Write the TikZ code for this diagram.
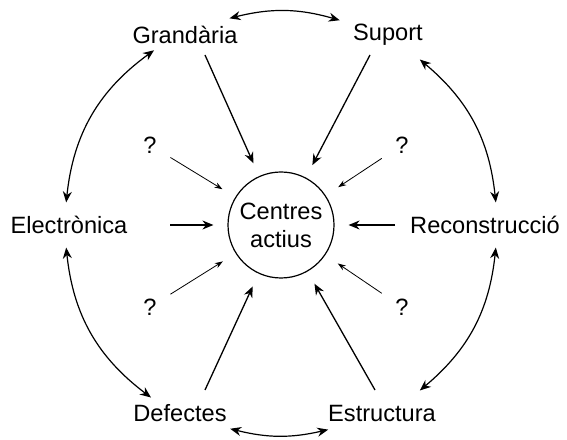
\documentclass[tikz,border=0pt]{standalone}
\usepackage{fontspec}
\setmainfont{Liberation Sans}
\usetikzlibrary{arrows.meta, calc}

\begin{document}
\begin{tikzpicture}[
  x=0.5pt, y=0.5pt,
  every node/.style={font=\fontsize{11.8}{14}\selectfont},
  centre/.style={circle, draw, line width=0.6pt, minimum size=53pt, align=center, inner sep=0pt},
  bigarrow/.style={line width=0.65pt, -{Stealth[length=5.5pt, width=4.5pt]}, shorten >=7pt},
  smallarrow/.style={line width=0.4pt, -{Stealth[length=4pt, width=2.8pt]}, shorten >=7.5pt, shorten <=4pt},
  linkarrow/.style={line width=0.6pt, {Stealth[length=5.5pt, width=4.5pt]}-{Stealth[length=5.5pt, width=4.5pt]}}
]
  \useasboundingbox (0,0) rectangle (567,439);

  \node[centre] (c) at (281,214) {Centres\\actius};

  \node (gr) at (185,404) {Grandària};
  \node (su) at (388,404) {Suport};
  \node (el) at (69,214)  {Electrònica};
  \node (re) at (485,214) {Reconstrucció};
  \node (de) at (180,26)  {Defectes};
  \node (es) at (382,26)  {Estructura};

  \node (q1) at (150,294) {?};
  \node (q2) at (402,294) {?};
  \node (q3) at (150,132) {?};
  \node (q4) at (402,132) {?};

  % start points of the straight arrows
  \coordinate (gr-s) at (205,384);
  \coordinate (su-s) at (370,384);
  \coordinate (el-s) at (170,214);
  \coordinate (re-s) at (395,214);
  \coordinate (de-s) at (205,49);
  \coordinate (es-s) at (375,49);

  \draw[bigarrow] (gr-s) -- (c);
  \draw[bigarrow] (su-s) -- (c);
  \draw[bigarrow] (el-s) -- (c);
  \draw[bigarrow] (re-s) -- (c);
  \draw[bigarrow] (de-s) -- (c);
  \draw[bigarrow] (es-s) -- (c);

  \draw[smallarrow] (q1) -- (c);
  \draw[smallarrow] (q2) -- (c);
  \draw[smallarrow] (q3) -- (c);
  \draw[smallarrow] (q4) -- (c);

  % ends of the links round the outside
  \coordinate (ur1) at ($(c)+(6:216)$);
  \coordinate (ur2) at ($(c)+(50:216)$);
  \coordinate (tp1) at ($(c)+(74:213)$);
  \coordinate (tp2) at ($(c)+(104:213)$);
  \coordinate (ul1) at ($(c)+(126:216)$);
  \coordinate (ul2) at ($(c)+(174:216)$);
  \coordinate (ll1) at ($(c)+(186:216)$);
  \coordinate (ll2) at ($(c)+(233:216)$);
  \coordinate (bt1) at ($(c)+(256:210)$);
  \coordinate (bt2) at ($(c)+(283:210)$);
  \coordinate (lr1) at ($(c)+(310:216)$);
  \coordinate (lr2) at ($(c)+(354:216)$);

  \draw[linkarrow] (ur1) to[bend right=22] (ur2);
  \draw[linkarrow] (tp1) to[bend right=15] (tp2);
  \draw[linkarrow] (ul1) to[bend right=24] (ul2);
  \draw[linkarrow] (ll1) to[bend right=23.5] (ll2);
  \draw[linkarrow] (bt1) to[bend right=13.5] (bt2);
  \draw[linkarrow] (lr1) to[bend right=22] (lr2);
\end{tikzpicture}
\end{document}
